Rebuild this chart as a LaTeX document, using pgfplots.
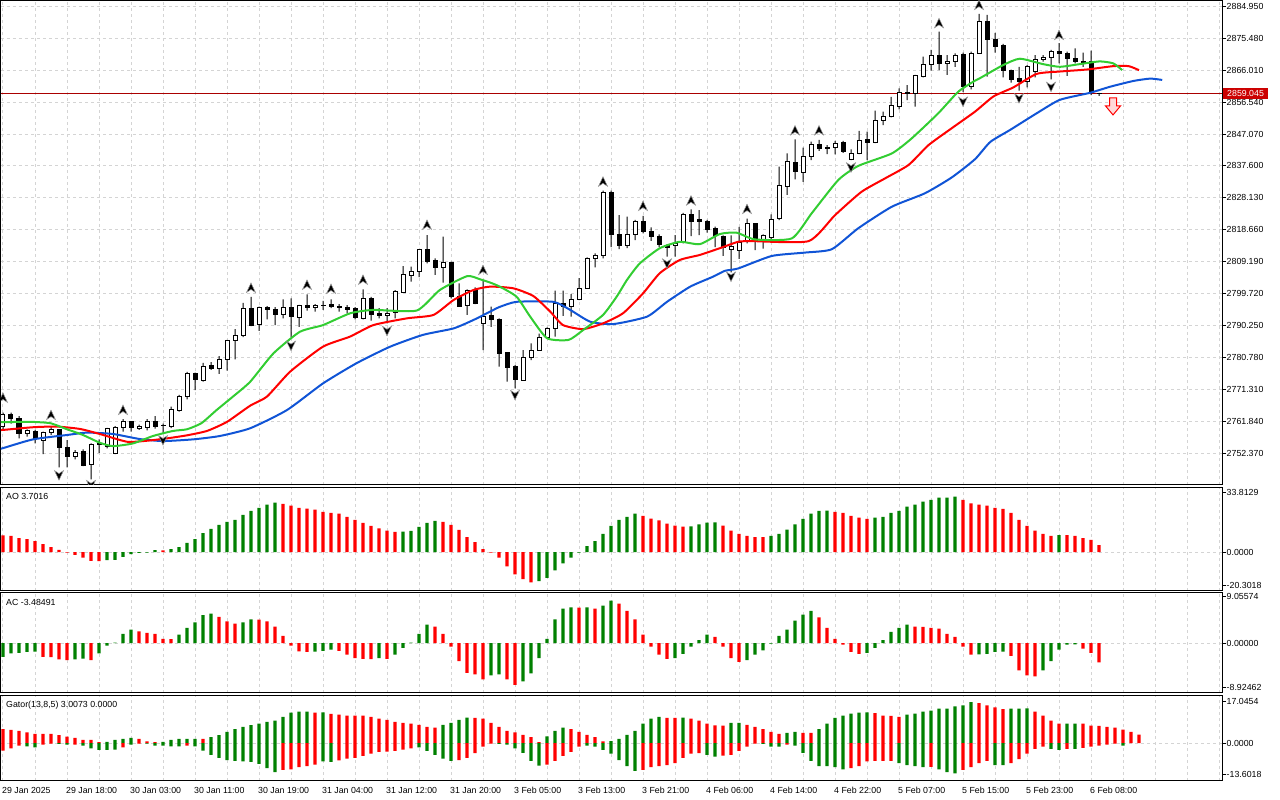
\documentclass[border=0pt]{standalone}
\usepackage{fontspec}
\setmainfont{Liberation Sans}
\usepackage{pgfplots}
\usepackage{pgfplotstable}
\pgfplotsset{compat=1.18}
\definecolor{mtgreen}{RGB}{0,128,0}
\definecolor{mtred}{RGB}{255,0,0}
\definecolor{jaw}{RGB}{16,84,214}
\definecolor{teeth}{RGB}{255,0,0}
\definecolor{lips}{RGB}{50,205,50}
\definecolor{gridc}{RGB}{212,212,212}
\definecolor{pline}{RGB}{170,0,0}
\definecolor{ptag}{RGB}{204,0,0}

\pgfdeclareplotmark{fracup}{%
 \pgfpathmoveto{\pgfqpoint{0pt}{5pt}}%
 \pgfpathlineto{\pgfqpoint{4.5pt}{-4.5pt}}%
 \pgfpathlineto{\pgfqpoint{0pt}{-1.5pt}}%
 \pgfpathlineto{\pgfqpoint{-4.5pt}{-4.5pt}}%
 \pgfpathclose\pgfusepathqfillstroke}
\pgfdeclareplotmark{fracdn}{%
 \pgfpathmoveto{\pgfqpoint{0pt}{-5pt}}%
 \pgfpathlineto{\pgfqpoint{4.5pt}{4.5pt}}%
 \pgfpathlineto{\pgfqpoint{0pt}{1.5pt}}%
 \pgfpathlineto{\pgfqpoint{-4.5pt}{4.5pt}}%
 \pgfpathclose\pgfusepathqfillstroke}
\pgfdeclareplotmark{sellarrow}{%
 \pgfpathmoveto{\pgfqpoint{-3.5pt}{9pt}}%
 \pgfpathlineto{\pgfqpoint{3.5pt}{9pt}}%
 \pgfpathlineto{\pgfqpoint{3.5pt}{1pt}}%
 \pgfpathlineto{\pgfqpoint{7.5pt}{1pt}}%
 \pgfpathlineto{\pgfqpoint{0pt}{-8pt}}%
 \pgfpathlineto{\pgfqpoint{-7.5pt}{1pt}}%
 \pgfpathlineto{\pgfqpoint{-3.5pt}{1pt}}%
 \pgfpathclose\pgfusepathqfillstroke}

\pgfplotstableread{
i O H L C
0 2760.2 2764.4 2759.3 2763.9
1 2764.0 2764.4 2761.2 2762.7
2 2762.7 2763.4 2756.8 2758.3
3 2758.3 2759.5 2757.3 2759.1
4 2758.9 2759.3 2755.3 2756.8
5 2756.1 2758.8 2752.1 2758.6
6 2758.6 2760.2 2757.8 2759.3
7 2759.3 2759.5 2748.2 2754.1
8 2754.1 2756.3 2748.2 2751.3
9 2751.3 2753.3 2750.6 2752.7
10 2752.9 2753.5 2748.6 2748.9
11 2749.1 2755.3 2744.6 2755.0
12 2755.1 2756.5 2752.5 2755.2
13 2754.3 2759.9 2753.8 2759.7
14 2752.3 2760.4 2752.1 2760.0
15 2760.0 2762.5 2758.8 2761.7
16 2761.7 2761.9 2758.8 2760.0
17 2759.8 2760.9 2759.3 2760.4
18 2760.0 2762.5 2759.2 2761.7
19 2761.7 2763.4 2759.7 2760.2
20 2760.7 2761.2 2758.3 2760.6
21 2760.2 2766.2 2759.8 2765.4
22 2765.2 2769.7 2764.7 2769.3
23 2769.3 2776.5 2768.4 2776.1
24 2776.1 2776.3 2771.1 2774.3
25 2773.9 2779.2 2773.6 2778.1
26 2778.3 2779.4 2777.1 2777.6
27 2777.6 2781.2 2775.9 2780.3
28 2780.2 2786.0 2776.9 2785.9
29 2785.9 2789.2 2780.2 2787.3
30 2787.3 2797.0 2786.8 2795.4
31 2795.4 2798.8 2790.1 2790.4
32 2790.7 2795.9 2788.7 2795.7
33 2795.7 2796.0 2792.1 2795.1
34 2795.1 2795.7 2790.4 2793.6
35 2793.4 2798.0 2792.4 2795.7
36 2795.7 2798.3 2786.9 2792.9
37 2792.5 2796.4 2789.9 2796.3
38 2796.3 2799.5 2794.7 2795.7
39 2795.7 2796.6 2794.4 2796.3
40 2796.2 2797.6 2794.9 2796.3
41 2796.6 2798.0 2795.4 2796.0
42 2796.0 2796.6 2794.4 2795.5
43 2795.6 2796.3 2793.9 2795.0
44 2795.2 2795.7 2792.1 2792.7
45 2792.4 2801.0 2792.1 2798.3
46 2798.3 2798.8 2791.7 2793.4
47 2793.7 2795.4 2792.4 2793.1
48 2793.1 2795.4 2790.9 2793.9
49 2794.1 2800.8 2792.4 2800.5
50 2800.1 2807.9 2800.0 2805.5
51 2805.2 2807.7 2803.3 2806.3
52 2806.2 2812.9 2804.6 2812.7
53 2812.7 2817.1 2808.7 2809.2
54 2809.5 2810.2 2805.3 2807.5
55 2807.5 2816.6 2803.0 2808.9
56 2808.9 2809.2 2798.3 2798.8
57 2798.8 2802.8 2795.9 2796.0
58 2796.3 2801.0 2793.4 2800.8
59 2801.0 2801.6 2796.6 2796.8
60 2790.9 2803.5 2783.0 2792.9
61 2793.2 2795.9 2789.9 2792.2
62 2792.2 2792.4 2778.1 2782.0
63 2782.2 2782.4 2773.6 2777.9
64 2778.1 2778.5 2771.6 2774.3
65 2774.1 2783.0 2773.9 2780.8
66 2780.8 2785.0 2780.0 2783.0
67 2783.0 2787.9 2782.8 2786.8
68 2786.8 2789.7 2786.5 2789.4
69 2789.4 2800.6 2787.0 2796.8
70 2796.8 2800.6 2793.1 2796.0
71 2796.0 2799.6 2792.9 2798.0
72 2798.0 2804.3 2797.8 2801.3
73 2801.3 2810.5 2801.1 2810.2
74 2810.2 2811.7 2807.5 2811.0
75 2810.9 2830.3 2810.2 2829.8
76 2829.8 2830.3 2813.5 2817.3
77 2817.3 2823.0 2812.9 2813.9
78 2813.9 2822.6 2813.2 2817.3
79 2817.3 2821.6 2815.6 2821.1
80 2821.1 2822.8 2817.6 2818.1
81 2818.1 2819.4 2815.4 2816.6
82 2816.8 2817.3 2813.5 2814.4
83 2813.9 2814.4 2810.7 2813.5
84 2813.9 2817.1 2810.7 2814.6
85 2815.0 2823.7 2814.6 2823.2
86 2823.2 2824.7 2816.8 2821.1
87 2821.6 2824.5 2817.1 2821.1
88 2821.1 2821.6 2817.8 2818.6
89 2819.1 2819.6 2813.5 2817.1
90 2816.6 2817.0 2810.9 2813.5
91 2812.8 2817.0 2806.0 2813.8
92 2812.6 2819.5 2810.0 2815.0
93 2815.6 2822.0 2814.6 2820.4
94 2820.4 2820.6 2812.6 2815.6
95 2815.6 2817.3 2813.1 2816.9
96 2816.5 2823.2 2815.4 2821.7
97 2821.9 2837.4 2821.5 2831.9
98 2831.4 2841.3 2829.0 2839.0
99 2838.6 2845.5 2833.6 2835.9
100 2835.8 2843.0 2832.9 2840.3
101 2840.3 2844.8 2839.3 2844.0
102 2844.0 2845.3 2842.1 2842.7
103 2843.1 2843.8 2841.1 2842.7
104 2843.1 2845.0 2841.0 2844.3
105 2844.5 2845.0 2841.5 2841.8
106 2839.5 2842.5 2839.3 2841.3
107 2841.3 2848.0 2841.1 2845.1
108 2845.3 2847.8 2839.3 2844.6
109 2844.6 2854.0 2844.4 2851.2
110 2851.0 2853.7 2849.7 2852.4
111 2852.2 2858.1 2852.0 2855.4
112 2855.2 2860.6 2854.4 2859.3
113 2859.1 2861.6 2857.1 2859.3
114 2859.1 2864.6 2855.2 2864.3
115 2864.1 2870.0 2863.9 2867.7
116 2867.7 2872.0 2865.9 2870.5
117 2870.5 2877.4 2866.0 2868.0
118 2868.0 2870.5 2864.6 2868.7
119 2868.5 2871.0 2867.0 2870.5
120 2870.7 2871.2 2859.5 2861.2
121 2861.2 2871.5 2860.3 2871.0
122 2871.0 2882.7 2870.8 2880.4
123 2880.4 2882.4 2864.1 2875.1
124 2875.1 2877.1 2871.2 2873.0
125 2873.2 2873.8 2863.9 2866.0
126 2866.0 2866.2 2862.3 2863.1
127 2863.6 2867.0 2859.9 2862.5
128 2862.5 2867.5 2860.9 2867.0
129 2865.6 2870.5 2863.9 2869.2
130 2869.2 2870.5 2868.5 2869.8
131 2869.8 2872.0 2863.3 2871.5
132 2871.5 2874.0 2868.0 2870.8
133 2870.8 2871.5 2864.3 2869.5
134 2869.5 2872.5 2868.0 2868.5
135 2868.7 2871.2 2867.0 2868.0
136 2868.5 2871.8 2858.6 2859.3
137 2859.2 2859.3 2858.4 2859.045
}\candles

\pgfplotstableread{
b p
0 2768.8
6 2763.7
15 2765.2
31 2801.4
38 2802.3
41 2801.1
45 2803.8
53 2820.1
60 2806.7
75 2832.9
80 2825.7
86 2827.3
93 2824.8
99 2848.1
102 2848.1
117 2879.9
122 2885.3
132 2876.4
}\fracuptab

\pgfplotstableread{
b p
7 2745.9
11 2743.0
20 2756.3
36 2784.3
48 2788.7
64 2769.7
83 2808.7
91 2804.8
106 2837.2
120 2856.7
127 2857.7
131 2861.1
}\fracdntab

\pgfplotsset{
  mt/.style={
    scale only axis, width=1221pt, xmin=-0.25, xmax=152.375,
    anchor=south west,
    axis line style={line width=1pt, black},
    tick label style={font=\fontsize{8.8}{10}\selectfont},
    grid style={gridc, line width=1pt, dash pattern=on 3pt off 3pt},
    ytick pos=right, yticklabel pos=right,
    tick align=outside, major tick length=4pt, minor tick length=0pt,
    ytick style={black, line width=1pt},
    xtick style={draw=none},
    yticklabel style={inner xsep=0.5pt},
  },
  mthide/.style={scale only axis, width=1221pt, xmin=-0.25, xmax=152.375,
    anchor=south west, hide axis},
  mainy/.style={at={(1pt,315pt)}, height=484pt, ymin=2742.97, ymax=2886.52},
  hbar/.style={ybar, bar shift=0pt, bar width=3.3pt, draw=none},
  gline/.style={line width=2pt, smooth, tension=0.35},
}
\tikzset{paneltxt/.style={anchor=north west, inner sep=0pt, font=\fontsize{8.8}{10}\selectfont}}

\begin{document}
\begin{tikzpicture}
\useasboundingbox (0,0) rectangle (1280pt,800pt);

% ---------- main panel: frame, grid, price axis
\begin{axis}[mt, mainy,
  xtick={0,4,...,152}, xticklabels={}, xmajorgrids, ymajorgrids,
  ytick={2752.37,2761.84,2771.31,2780.78,2790.25,2799.72,2809.19,2818.66,2828.13,2837.60,2847.07,2856.54,2866.01,2875.48,2884.95},
  yticklabels={2752.370,2761.840,2771.310,2780.780,2790.250,2799.720,2809.190,2818.660,2828.130,2837.600,2847.070,2856.540,2866.010,2875.480,2884.950}]
\addplot[pline, line width=1pt] coordinates {(-0.25,2859.045) (152.375,2859.045)};
\end{axis}

% ---------- wicks
\begin{axis}[mthide, mainy, ybar stacked, bar width=1pt]
\addplot[draw=none, fill=none] table[x=i, y=L] {\candles};
\addplot[draw=none, fill=black] table[x=i, y expr={\thisrow{H}-\thisrow{L}}] {\candles};
\end{axis}

% ---------- bodies
\begin{axis}[mthide, mainy, ybar stacked, bar width=4pt]
\addplot[draw=none, fill=none] table[x=i, y expr={min(\thisrow{O},\thisrow{C})}] {\candles};
\addplot[draw=black, line width=1pt, fill=white] table[x=i, y expr={max(\thisrow{C}-\thisrow{O},0)}] {\candles};
\addplot[draw=black, line width=1pt, fill=black] table[x=i, y expr={max(\thisrow{O}-\thisrow{C},0)}] {\candles};
\end{axis}

% ---------- alligator, fractals, signal
\begin{axis}[mthide, mainy, clip marker paths=true]
\addplot[jaw, gline] coordinates {(-0.25,2753.8) (0,2753.9) (3.75,2756.5) (8,2757.8) (10.5,2758.5) (13.75,2758.1) (17.1,2756.6) (20,2756.0) (23.75,2756.5) (27.1,2757.5) (30.9,2759.8) (35.5,2765.2) (40,2773.1) (44.2,2779.1) (48.4,2784.0) (52.5,2787.5) (56.3,2789.4) (58.8,2791.9) (60.9,2794.4) (62.1,2795.8) (64.2,2797.3) (68.8,2797.3) (70.9,2794.9) (73.4,2791.4) (76.3,2790.7) (80.5,2792.9) (83,2797.3) (85.9,2801.8) (88.8,2804.8) (90.25,2806.5) (91.9,2807.2) (96.1,2810.9) (100.25,2811.9) (103.6,2812.9) (106.9,2819.1) (111.1,2825.5) (115.25,2829.5) (118.6,2834.2) (121.5,2839.6) (123.4,2844.7) (125.9,2848.3) (129.2,2853.2) (132.1,2857.2) (135.9,2859.3) (138.4,2861.1) (141.3,2862.8) (143.4,2863.5) (144.9,2863.1)};
\addplot[teeth, gline] coordinates {(-0.25,2759.3) (0,2759.3) (3.75,2760.1) (6.7,2760.3) (9.6,2759.6) (12.1,2758.1) (15.5,2755.8) (18,2756.1) (20.5,2756.8) (23,2757.7) (25.5,2759.0) (28,2761.7) (30.9,2766.5) (33,2769.2) (35.9,2776.6) (40,2784.0) (43.4,2787.0) (46.3,2790.4) (50.5,2792.4) (53.8,2793.4) (56.3,2797.8) (58.8,2800.8) (60.9,2801.8) (63.8,2801.3) (66.3,2799.0) (68.4,2794.4) (70,2790.4) (72.5,2789.2) (75,2790.9) (77.5,2793.9) (80,2799.8) (82.1,2805.8) (84.6,2809.7) (87.1,2811.2) (89.6,2813.2) (91.9,2815.1) (93.6,2815.3) (100.7,2815.3) (104,2823.0) (107.3,2829.9) (110.25,2833.9) (113.2,2837.9) (115.7,2843.8) (118.6,2848.8) (121.5,2853.7) (123.8,2858.2) (126.3,2860.9) (129.2,2864.9) (132.1,2865.6) (135.5,2866.2) (138.8,2867.2) (140.7,2867.2) (142,2866.0)};
\addplot[lips, gline] coordinates {(-0.25,2761.6) (0,2761.6) (3.4,2761.7) (5.9,2761.3) (8,2759.5) (10,2757.8) (12.1,2755.5) (13.75,2754.5) (16.25,2755.3) (18.75,2757.5) (21.25,2759.0) (23,2759.5) (24.8,2761.3) (26.7,2765.2) (28.75,2769.2) (30.9,2773.6) (33.8,2782.0) (37.1,2788.4) (40,2790.4) (43.4,2793.9) (46.3,2794.9) (51.7,2794.7) (54.6,2800.8) (58,2804.9) (59.6,2804.0) (60.9,2803.0) (62.1,2801.8) (64.2,2798.8) (65.9,2792.9) (68,2786.5) (70.7,2786.0) (72.5,2788.9) (75,2793.4) (76.7,2798.8) (78,2803.8) (79.6,2808.7) (82.1,2813.2) (84.6,2815.1) (87.1,2814.4) (89.6,2817.4) (91.7,2817.8) (94,2815.8) (98.6,2816.1) (101.1,2823.6) (104.4,2833.4) (106.9,2837.6) (111.1,2841.3) (113.6,2845.8) (116.9,2853.2) (119.4,2859.6) (121.5,2862.9) (122.1,2863.6) (125,2867.5) (127.1,2869.4) (130,2867.8) (132.1,2867.0) (134.6,2867.8) (137.1,2868.6) (138.8,2868.0) (139.9,2866.0)};
\addplot[only marks, mark=fracup, mark options={fill=black, draw=black!40, line width=0.5pt}] table[x=b, y=p] {\fracuptab};
\addplot[only marks, mark=fracdn, mark options={fill=black, draw=black!40, line width=0.5pt}] table[x=b, y=p] {\fracdntab};
\addplot[only marks, mark=sellarrow, mark options={fill=red!15, draw=red, line width=1pt}] coordinates {(138.75,2855.1)};
\coordinate (ptagc) at (axis cs:152.375,2859.045);
\end{axis}

\node[fill=ptag, text=white, anchor=west, inner xsep=4pt, inner ysep=2.3pt,
  font=\fontsize{8.8}{10}\selectfont] at ([xshift=1pt]ptagc) {2859.045};

% ---------- AO
\begin{axis}[mt, at={(1pt,209pt)}, height=103.5pt, ymin=-20.3018, ymax=33.8129,
  xtick={0,4,...,152}, xticklabels={}, xmajorgrids, ymajorgrids,
  ytick={0}, yticklabels={0.0000},
  extra y ticks={-17.2,31.4}, extra y tick labels={-20.3018,33.8129}, extra y tick style={grid=none}]
\addplot[hbar, fill=mtgreen] coordinates {(13,-4.1) (14,-4.0) (15,-2.5) (16,-1.0) (17,-0.4) (18,-0.3) (19,1.05) (21,1.6) (22,2.7) (23,4.8) (24,6.8) (25,10.0) (26,12.2) (27,14.3) (28,15.8) (29,16.9) (30,19.5) (31,21.6) (32,23.2) (33,24.8) (34,25.9) (50,10.7) (51,11.1) (52,13.2) (53,15.3) (54,16.4) (67,-15.1) (68,-13.5) (69,-9.5) (70,-5.8) (71,-2.9) (72,-0.2) (73,3.1) (74,5.8) (75,9.5) (76,13.7) (77,16.9) (78,18.5) (79,20.2) (86,13.45) (87,14.5) (88,15.5) (89,15.55) (96,8.5) (97,9.5) (98,11.8) (99,14.5) (100,17.4) (101,20.1) (102,21.6) (103,21.7) (109,18.0) (110,18.5) (111,20.5) (112,21.6) (113,23.8) (114,24.8) (115,26.4) (116,27.4) (117,28.5) (118,28.55) (119,29.0) (132,8.9)};
\addplot[hbar, fill=mtred] coordinates {(0,8.8) (1,8.5) (2,7.4) (3,6.8) (4,5.8) (5,4.2) (6,2.7) (7,1.2) (8,-0.2) (9,-1.4) (10,-2.9) (11,-4.6) (12,-4.7) (20,0.95) (35,25.3) (36,24.3) (37,23.2) (38,22.8) (39,22.2) (40,21.1) (41,20.5) (42,20.1) (43,18.5) (44,16.9) (45,15.3) (46,13.7) (47,12.5) (48,11.2) (49,10.6) (55,15.8) (56,14.3) (57,11.6) (58,7.9) (59,5.2) (60,1.6) (61,-0.2) (62,-2.9) (63,-7.4) (64,-11.6) (65,-14.1) (66,-15.8) (80,19.0) (81,17.6) (82,16.6) (83,14.9) (84,13.9) (85,13.4) (90,13.9) (91,11.2) (92,9.5) (93,8.5) (94,7.9) (95,7.85) (104,21.1) (105,20.5) (106,19.0) (107,18.0) (108,17.4) (120,27.4) (121,25.5) (122,24.8) (123,24.3) (124,23.2) (125,22.7) (126,20.5) (127,16.9) (128,13.7) (129,11.2) (130,9.5) (131,8.5) (133,8.85) (134,8.5) (135,7.4) (136,6.4) (137,3.7016)};
\node[paneltxt] at ([xshift=5pt,yshift=-6pt]rel axis cs:0,1) {AO 3.7016};
\end{axis}

% ---------- AC
\begin{axis}[mt, at={(1pt,107.3pt)}, height=100pt, ymin=-8.92462, ymax=9.05574,
  xtick={0,4,...,152}, xticklabels={}, xmajorgrids, ymajorgrids,
  ytick={0}, yticklabels={0.00000},
  extra y ticks={-8.03,8.34}, extra y tick labels={-8.92462,9.05574}, extra y tick style={grid=none}]
\addplot[hbar, fill=mtgreen] coordinates {(0,-2.5) (1,-1.85) (2,-1.75) (3,-1.6) (4,-1.55) (9,-2.95) (10,-2.8) (12,-1.85) (13,-0.45) (14,0.1) (15,1.65) (16,2.4) (22,1.5) (23,2.75) (24,3.7) (25,5.0) (26,5.3) (30,3.7) (31,4.25) (39,-1.55) (40,-1.4) (41,-1.2) (47,-2.7) (49,-2.1) (50,-0.85) (51,0.1) (52,1.65) (53,3.3) (61,-5.8) (62,-5.65) (65,-6.9) (66,-5.45) (67,-2.7) (68,0.75) (69,4.25) (70,6.2) (71,6.4) (73,6.4) (75,6.75) (76,7.65) (84,-2.7) (85,-1.95) (86,-0.65) (87,0.55) (88,1.5) (93,-3.05) (94,-2.1) (95,-1.3) (96,-0.1) (97,1.3) (98,2.4) (99,4.05) (100,5.1) (101,5.8) (108,-1.75) (109,-0.85) (110,0.55) (111,2.0) (112,2.75) (113,3.3) (122,-2.05) (123,-1.95) (124,-1.6) (125,-1.55) (130,-4.9) (131,-3.25) (132,-1.2) (133,-0.3) (134,-0.25)};
\addplot[hbar, fill=mtred] coordinates {(5,-2.5) (6,-2.55) (7,-2.95) (8,-3.05) (11,-3.05) (17,2.1) (18,1.85) (19,1.65) (20,0.75) (21,0.7) (27,4.7) (28,3.9) (29,3.5) (32,4.2) (33,3.9) (34,2.95) (35,1.3) (36,-0.45) (37,-1.5) (38,-1.6) (42,-1.4) (43,-2.1) (44,-2.7) (45,-2.85) (46,-2.9) (48,-2.85) (54,2.95) (55,1.65) (56,-0.65) (57,-3.25) (58,-5.35) (59,-5.65) (60,-6.55) (63,-6.55) (64,-7.5) (72,6.35) (74,6.2) (77,7.1) (78,5.8) (79,4.25) (80,1.5) (81,-0.65) (82,-2.1) (83,-2.85) (89,1.1) (90,-0.65) (91,-2.7) (92,-3.4) (102,4.6) (103,2.75) (104,0.75) (105,-0.3) (106,-1.6) (107,-1.95) (114,2.95) (115,2.9) (116,2.75) (117,2.6) (118,1.65) (119,1.1) (120,-0.65) (121,-2.1) (126,-2.3) (127,-4.9) (128,-5.8) (129,-6.0) (135,-1.0) (136,-1.75) (137,-3.48491)};
\node[paneltxt] at ([xshift=5pt,yshift=-6pt]rel axis cs:0,1) {AC -3.48491};
\end{axis}

% ---------- Gator
\begin{axis}[mt, at={(1pt,19pt)}, height=85.6pt, ymin=-13.6018, ymax=17.0454,
  xtick={0,8,...,136},
  xticklabels={29 Jan 2025,29 Jan 18:00,30 Jan 03:00,30 Jan 11:00,30 Jan 19:00,31 Jan 04:00,31 Jan 12:00,31 Jan 20:00,3 Feb 05:00,3 Feb 13:00,3 Feb 21:00,4 Feb 06:00,4 Feb 14:00,4 Feb 22:00,5 Feb 07:00,5 Feb 15:00,5 Feb 23:00,6 Feb 08:00},
  minor xtick={4,12,20,28,36,44,52,60,68,76,84,92,100,108,116,124,132,140,144,148,152},
  xtick pos=bottom, xtick style={black, line width=1pt},
  xticklabel style={anchor=north west, inner sep=0pt, xshift=-1pt, yshift=-2pt},
  xmajorgrids, xminorgrids, ymajorgrids,
  ytick={0}, yticklabels={0.0000},
  extra y ticks={-11.2,14.97}, extra y tick labels={-13.6018,17.0454}, extra y tick style={grid=none}]
\addplot[hbar, fill=mtgreen] coordinates {(13,0.4) (14,1.1) (15,1.5) (16,1.8) (20,0.4) (21,1.1) (22,1.5) (23,1.5) (24,1.5) (26,2.1) (27,2.8) (28,4.0) (29,5.0) (30,5.8) (31,6.4) (32,6.9) (33,7.6) (34,8.0) (35,9.4) (36,10.9) (37,11.2) (38,11.25) (40,10.95) (55,6.5) (56,7.2) (57,8.3) (58,9.1) (68,2.4) (69,4.35) (70,5.5) (76,0.7) (77,1.5) (78,2.9) (79,4.35) (80,6.9) (81,8.7) (82,9.4) (85,9.05) (91,7.2) (92,7.25) (98,3.65) (99,4.0) (102,5.0) (103,6.9) (104,9.0) (105,9.8) (106,10.5) (107,10.9) (108,10.95) (113,10.2) (114,10.5) (115,11.2) (116,11.6) (117,12.3) (118,12.35) (119,13.1) (120,13.5) (121,14.6) (126,12.3) (127,12.35) (128,12.4) (133,6.95) (134,6.95)};
\addplot[hbar, fill=mtred] coordinates {(0,5.0) (1,4.7) (2,4.35) (3,3.8) (4,3.3) (5,3.3) (6,3.25) (7,2.8) (8,2.25) (9,1.8) (10,1.1) (11,1.1) (12,0.35) (17,1.5) (18,0.6) (19,0.35) (25,1.45) (39,10.9) (41,10.4) (42,10.2) (43,9.8) (44,9.8) (45,9.8) (46,9.4) (47,8.7) (48,8.3) (49,7.6) (50,7.2) (51,6.9) (52,6.5) (53,5.8) (54,5.5) (59,9.0) (60,8.7) (61,7.2) (62,5.8) (63,4.35) (64,3.8) (65,2.9) (66,2.1) (67,0.35) (71,5.0) (72,4.0) (73,2.9) (74,2.1) (75,0.6) (83,9.0) (84,9.0) (86,8.7) (87,8.0) (88,6.9) (89,6.3) (90,6.25) (93,6.5) (94,5.8) (95,5.0) (96,4.0) (97,3.3) (100,3.65) (101,3.6) (109,10.7) (110,9.8) (111,9.75) (112,9.4) (122,14.3) (123,13.5) (124,12.8) (125,12.1) (129,11.2) (130,9.8) (131,8.0) (132,6.9) (135,6.9) (136,6.2) (137,6.15) (138,5.8) (139,5.5) (140,4.8) (141,4.0) (142,3.0073)};
\addplot[hbar, fill=mtgreen] coordinates {(3,-1.2) (4,-1.55) (7,-0.3) (8,-0.6) (10,-0.95) (11,-1.9) (12,-2.45) (13,-2.45) (14,-2.4) (16,-0.6) (18,-0.25) (19,-0.95) (20,-0.95) (21,-1.2) (22,-1.2) (24,-1.2) (25,-2.7) (26,-4.25) (27,-5.3) (28,-6.1) (29,-6.4) (30,-6.6) (31,-6.8) (32,-7.5) (33,-8.95) (34,-10.4) (40,-6.6) (41,-6.8) (52,-1.55) (53,-2.8) (54,-4.25) (55,-5.55) (56,-6.4) (62,-0.35) (63,-0.6) (64,-1.9) (65,-3.5) (66,-6.4) (67,-8.1) (73,-0.95) (74,-1.3) (75,-2.45) (76,-3.8) (77,-6.1) (78,-8.25) (79,-10.0) (88,-4.25) (89,-4.85) (95,-0.3) (96,-1.3) (97,-1.3) (99,-0.95) (100,-3.5) (101,-6.4) (102,-8.25) (103,-8.3) (104,-8.6) (105,-9.4) (112,-7.2) (113,-7.9) (114,-8.25) (115,-8.6) (117,-9.4) (118,-10.4) (119,-10.9) (124,-7.9) (125,-7.95) (131,-2.1) (132,-2.45) (134,-2.1) (140,-0.95)};
\addplot[hbar, fill=mtred] coordinates {(0,-2.7) (1,-1.9) (2,-0.95) (5,-0.6) (6,-0.25) (9,-0.6) (15,-1.55) (17,-0.25) (23,-0.95) (35,-9.6) (36,-9.4) (37,-8.6) (38,-8.25) (39,-7.7) (42,-6.25) (43,-5.55) (44,-5.3) (45,-4.6) (46,-3.8) (47,-3.15) (48,-3.1) (49,-2.8) (50,-2.4) (51,-1.9) (57,-6.1) (58,-5.3) (59,-3.65) (60,-1.3) (61,-0.25) (68,-7.75) (69,-6.4) (70,-4.6) (71,-3.15) (72,-1.3) (80,-9.65) (81,-8.6) (82,-8.25) (83,-7.9) (84,-7.2) (85,-5.3) (86,-3.8) (87,-3.65) (90,-4.5) (91,-4.25) (92,-2.8) (93,-1.3) (94,-0.25) (98,-0.6) (106,-8.95) (107,-8.25) (108,-6.6) (109,-6.4) (110,-6.4) (111,-6.4) (116,-8.55) (120,-9.65) (121,-8.6) (122,-7.2) (123,-6.4) (126,-7.2) (127,-5.75) (128,-3.8) (129,-2.1) (130,-1.3) (133,-2.1) (135,-1.75) (136,-1.3) (137,-0.95) (138,-0.6) (139,-0.25)};
\node[paneltxt] at ([xshift=5pt,yshift=-6pt]rel axis cs:0,1) {Gator(13,8,5) 3.0073 0.0000};
\end{axis}
\end{tikzpicture}
\end{document}
